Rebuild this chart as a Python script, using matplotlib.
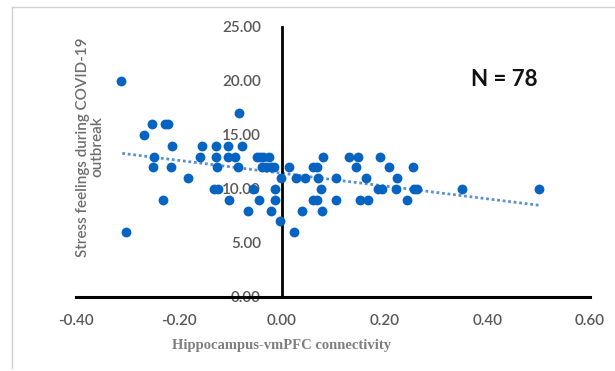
import matplotlib
matplotlib.use("Agg")
import matplotlib.pyplot as plt
from matplotlib.lines import Line2D

# connectivity (x) vs stress score (y)
conn = [-0.312, -0.302, -0.268, -0.252, -0.248, -0.250, -0.230, -0.227, -0.221,
        -0.214, -0.215, -0.182, -0.158, -0.155, -0.131, -0.123, -0.128, -0.128,
        -0.125, -0.105, -0.105, -0.102, -0.091, -0.083, -0.078, -0.084, -0.065,
        -0.055, -0.048, -0.042, -0.036, -0.024, -0.044, -0.038, -0.030, -0.020,
        -0.014, -0.020, -0.013, -0.013, -0.004, -0.002, 0.015, 0.025, 0.028,
        0.045, 0.039, 0.061, 0.069, 0.062, 0.069, 0.070, 0.077, 0.078, 0.081,
        0.105, 0.105, 0.131, 0.148, 0.145, 0.152, 0.169, 0.164, 0.188, 0.196,
        0.191, 0.208, 0.222, 0.225, 0.244, 0.256, 0.258, 0.264, 0.350, 0.500]
stress = [20, 6, 15, 16, 13, 12, 9, 16, 16,
          14, 12, 11, 13, 14, 10, 10, 14, 13,
          12, 14, 13, 9, 13, 17, 14, 12, 8,
          10, 13, 13, 13, 13, 9, 12, 12, 12,
          12, 8, 10, 9, 7, 11, 12, 6, 11,
          11, 8, 9, 9, 12, 12, 11, 10, 8, 13,
          11, 9, 13, 13, 12, 9, 9, 11, 10, 10,
          13, 12, 10, 11, 9, 12, 10, 10, 10, 10]

trend_x = [-0.31, 0.50]
trend_y = [13.3, 8.5]

xticks = [-0.4, -0.2, 0.0, 0.2, 0.4, 0.6]
yticks = [0, 5, 10, 15, 20, 25]

fig = plt.figure(figsize=(6.15, 3.71), dpi=100)
ax = fig.add_axes([76/615, 74/371, 514/615, 270/371])

ax.scatter(conn, stress, s=50, color='#0563C1', zorder=3, linewidths=0)
ax.plot(trend_x, trend_y, color='#5B8FD0', linestyle=(0, (1, 1)), linewidth=2, zorder=2)

ax.set_xlim(-0.4, 0.6)
ax.set_ylim(0, 25)

for s in ['top', 'right']:
    ax.spines[s].set_visible(False)
ax.spines['left'].set_position(('data', 0))
ax.spines['bottom'].set_position(('data', 0))
ax.spines['left'].set_linewidth(2)
ax.spines['bottom'].set_linewidth(2.2)
ax.spines['left'].set_color('black')
ax.spines['bottom'].set_color('black')

ax.set_xticks(xticks)
ax.set_xticklabels(['%.2f' % v for v in xticks])
ax.set_yticks(yticks)
ax.set_yticklabels(['%.2f' % v for v in yticks])
ax.tick_params(axis='both', length=0, labelsize=11, labelcolor='#595959')
ax.tick_params(axis='y', pad=15)
ax.tick_params(axis='x', pad=12)
for lab in ax.get_xticklabels() + ax.get_yticklabels():
    lab.set_family('Lato')
    lab.set_fontweight('semibold')

# axis titles
ax.text(0.0, -0.18, 'Hippocampus-vmPFC connectivity', transform=ax.get_xaxis_transform(),
        ha='center', va='center', family='Liberation Serif', fontweight='bold',
        fontsize=10.5, color='#7F7F7F')
fig.text(90/615, 1 - 147/371, 'Stress feelings during COVID-19\noutbreak', rotation=90,
         ha='center', va='center', family='Lato', fontsize=11, color='#6E6E6E',
         fontweight='semibold', linespacing=1.0)

ax.text(504/615, 1 - 79/371, 'N = 78', transform=fig.transFigure, ha='center', va='center',
        family='Lato', fontweight='bold', fontsize=16, color='#111111')

# light frame around the chart area
fig.add_artist(Line2D([12/615, 12/615], [3/371, 1 - 7/371], transform=fig.transFigure,
                      color='#D0D0D0', linewidth=1))
fig.add_artist(Line2D([12/615, 1], [1 - 7/371, 1 - 7/371], transform=fig.transFigure,
                      color='#D0D0D0', linewidth=1))

fig.savefig('out.png', dpi=100)
